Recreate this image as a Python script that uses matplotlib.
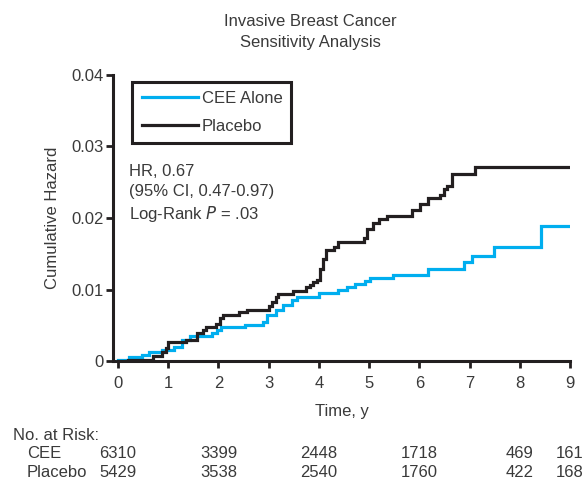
import numpy as np
import matplotlib
matplotlib.use('Agg')
from matplotlib import pyplot as plt
import matplotlib.transforms as mtrans

plt.rcParams['font.family'] = ['Liberation Sans', 'DejaVu Sans']

# cumulative hazard, step changes (time in years)
cee_t = [0, 0.22, 0.47, 0.62, 0.87, 1.11, 1.28, 1.44, 1.88, 1.98, 2.05, 2.52, 2.89, 2.97,
         3.15, 3.29, 3.46, 3.56, 4.0, 4.39, 4.56, 4.72, 4.91, 5.02, 5.48, 6.18, 6.88,
         7.05, 7.48, 8.42, 9.0]
cee_h = [0.0002, 0.0005, 0.0008, 0.0013, 0.0016, 0.002, 0.003, 0.0035, 0.0039, 0.0043,
         0.0047, 0.0051, 0.0055, 0.0064, 0.0072, 0.0079, 0.0086, 0.009, 0.0095, 0.0099,
         0.0103, 0.0107, 0.0112, 0.0116, 0.012, 0.0129, 0.0138, 0.0147, 0.0159, 0.0189,
         0.0189]

pla_t = [0, 0.2, 0.7, 0.87, 0.96, 1.0, 1.35, 1.58, 1.7, 1.76, 1.95, 2.03, 2.09, 2.4, 2.56,
         3.0, 3.06, 3.14, 3.19, 3.49, 3.75, 3.82, 3.89, 3.96, 4.02, 4.09, 4.14, 4.31, 4.39,
         4.89, 4.95, 5.07, 5.19, 5.35, 5.85, 6.02, 6.18, 6.42, 6.5, 6.55, 6.65, 7.11, 9.0]
pla_h = [0, 0.0002, 0.0007, 0.0012, 0.0018, 0.0026, 0.003, 0.0039, 0.0043, 0.0047, 0.0052,
         0.006, 0.0064, 0.0068, 0.0072, 0.0077, 0.0083, 0.009, 0.0094, 0.0098, 0.0103,
         0.0106, 0.0111, 0.0113, 0.0128, 0.0142, 0.0155, 0.0159, 0.0167, 0.0172, 0.0184,
         0.0193, 0.0198, 0.0203, 0.0211, 0.022, 0.0228, 0.0232, 0.024, 0.0245, 0.0262,
         0.0271, 0.0271]

risk_t = [0, 2, 4, 6, 8, 9]
risk_cee = ['6310', '3399', '2448', '1718', '469', '161']
risk_pla = ['5429', '3538', '2540', '1760', '422', '168']

blue = '#00aeef'
dark = '#231f20'
txt = '#3a3a3a'
W, H = 585, 486

fig = plt.figure(figsize=(W / 100, H / 100), dpi=100)
ax = fig.add_axes([113 / W, 1 - 361 / H, (570 - 113) / W, (361 - 75) / H])

ax.step(cee_t, cee_h, where='post', color=blue, lw=2.3, label='CEE Alone',
        solid_joinstyle='miter', zorder=3)
ax.step(pla_t, pla_h, where='post', color=dark, lw=2.3, label='Placebo',
        solid_joinstyle='miter', zorder=4)

ax.set_xlim(-0.1, 9)
ax.set_ylim(0, 0.04)
ax.set_xticks(range(10))
ax.set_yticks([0, 0.01, 0.02, 0.03, 0.04])
ax.set_yticklabels(['0', '0.01', '0.02', '0.03', '0.04'])
for s in ['top', 'right']:
    ax.spines[s].set_visible(False)
for s in ['left', 'bottom']:
    ax.spines[s].set_linewidth(2.2)
    ax.spines[s].set_color(dark)
ax.tick_params(length=5, width=2, color=dark, labelsize=12, labelcolor=txt)
ax.tick_params(axis='x', pad=6)
ax.tick_params(axis='y', pad=2)

ax.set_xlabel('Time, y', fontsize=12, color=txt, labelpad=9)
ax.set_ylabel('Cumulative Hazard', fontsize=12, color=txt, labelpad=8)

leg = ax.legend(loc='upper left', bbox_to_anchor=(11 / 457, 1.005), fontsize=12,
                handlelength=3.4, handletextpad=0.2, labelspacing=0.75, borderpad=0.55,
                fancybox=False, frameon=True, framealpha=1, labelcolor=txt)
leg.get_frame().set_edgecolor(dark)
leg.get_frame().set_linewidth(2.2)

ax.text(0.22, 0.0275, 'HR, 0.67\n(95% CI, 0.47-0.97)\nLog-Rank $\\it{P}$ = .03', fontsize=12,
        color=txt, va='top', ha='left', linespacing=1.35)

fig.text(310 / W, 1 - 32 / H, 'Invasive Breast Cancer\nSensitivity Analysis', fontsize=12,
         color=txt, ha='center', va='center', linespacing=1.5)

fig.text(13 / W, 1 - 435 / H, 'No. at Risk:', fontsize=12, color=txt, va='center')
fig.text(27 / W, 1 - 453 / H, 'CEE', fontsize=12, color=txt, va='center')
fig.text(27 / W, 1 - 472 / H, 'Placebo', fontsize=12, color=txt, va='center')
trans = mtrans.blended_transform_factory(ax.transData, fig.transFigure)
for t, a, b in zip(risk_t, risk_cee, risk_pla):
    ax.text(t, 1 - 453 / H, a, transform=trans, fontsize=12, color=txt,
            ha='center', va='center')
    ax.text(t, 1 - 472 / H, b, transform=trans, fontsize=12, color=txt,
            ha='center', va='center')

fig.savefig('out.png', dpi=100)
